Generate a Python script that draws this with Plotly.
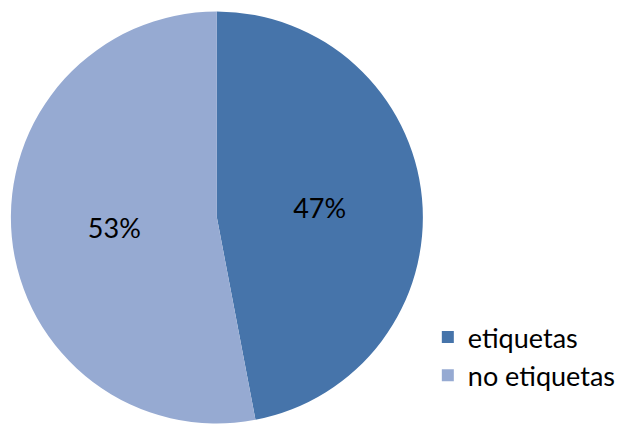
import plotly.graph_objects as go

labels = ["etiquetas", "no etiquetas"]
values = [47, 53]
colors = ["#4674AA", "#96AAD2"]

W, H = 621, 426
cx, cy, r = 219, 217.5, 208

fig = go.Figure(go.Pie(
    labels=labels,
    values=values,
    sort=False,
    direction="clockwise",
    rotation=0,
    marker=dict(colors=colors, line=dict(width=0)),
    textinfo="percent",
    texttemplate="%{percent:.0%}",
    textposition="inside",
    insidetextorientation="horizontal",
    textfont=dict(family="Lato, Carlito, Calibri, sans-serif", size=27, color="#000000"),
    domain=dict(x=[(cx - r) / W, (cx + r) / W], y=[1 - (cy + r) / H, 1 - (cy - r) / H]),
    hoverinfo="label+percent",
))

fig.update_layout(
    width=W, height=H,
    margin=dict(l=0, r=0, t=0, b=0),
    paper_bgcolor="white",
    plot_bgcolor="white",
    showlegend=True,
    legend=dict(
        x=432 / W, y=1 - 313 / H, xanchor="left", yanchor="top",
        font=dict(family="Lato, Carlito, Calibri, sans-serif", size=27, color="#000000"),
        bgcolor="rgba(0,0,0,0)",
        itemwidth=30,
    ),
)

fig.write_html(
    "out.html",
    config={"displayModeBar": False},
    post_script="document.body.style.margin='0';document.body.style.padding='0';",
)
